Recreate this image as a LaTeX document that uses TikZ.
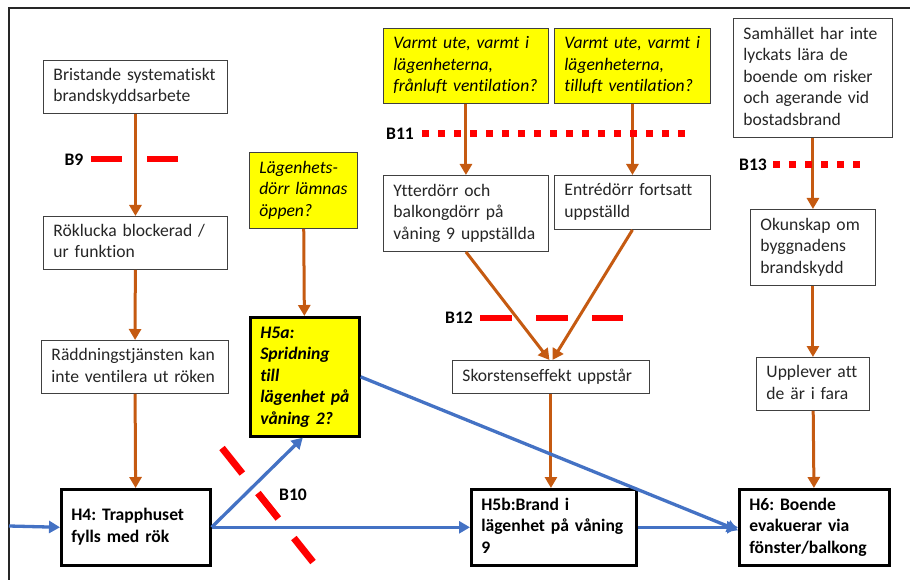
\documentclass[tikz,border=0pt]{standalone}
\usepackage{fontspec}
\setmainfont{Carlito}[Ligatures={NoCommon}]
\usetikzlibrary{arrows.meta}
\definecolor{arrOrange}{HTML}{C55A11}
\definecolor{arrBlue}{HTML}{4472C4}
\definecolor{barRed}{HTML}{FF0000}
\definecolor{noteYellow}{HTML}{FFFF00}
\newcommand{\basefont}{\fontsize{17.6}{21.5}\selectfont\frenchspacing}
\newcommand{\boxlines}[1]{\begin{tabular}{@{}l@{}}#1\end{tabular}}
\tikzset{
  box/.style={draw=black!75, line width=0.9pt, fill=white, anchor=north west,
    inner xsep=10pt, inner ysep=0pt, align=left, text=black!85, font=\basefont},
  yel/.style={box, fill=noteYellow, text=black, font=\basefont\itshape},
  hbox/.style={box, draw=black, line width=2.6pt, text=black, font=\basefont\bfseries},
  hyel/.style={hbox, fill=noteYellow, font=\basefont\bfseries\itshape},
  lab/.style={inner sep=0pt, font=\basefont\bfseries, text=black},
  orangearr/.style={draw=arrOrange, line width=3pt, -{Triangle[width=12pt,length=11pt]}},
  bluearr/.style={draw=arrBlue, line width=3.3pt, -{Triangle[width=12pt,length=11pt]}},
  barrier/.style={draw=barRed, line width=6.5pt},
}
\begin{document}
\begin{tikzpicture}[x=1pt,y=-1pt]
\useasboundingbox (0,0) rectangle (910,580);
% frame
\coordinate (fbl) at (9,580);
\coordinate (ftl) at (9,8);
\coordinate (ftr) at (910,8);
\draw[line width=2pt, black!85] (fbl) -- (ftl) -- (ftr);

% left column
\node[box, text width=164pt, minimum height=53pt] (A) at (43,60) {\boxlines{Bristande systematiskt\\brandskyddsarbete}};
\node[box, text width=164pt, minimum height=53pt] (B) at (43,216) {\boxlines{Röklucka blockerad /\\ur funktion}};
\node[box, text width=167pt, minimum height=53pt] (C) at (41,340) {\boxlines{Räddningstjänsten kan\\inte ventilera ut röken}};
\node[hbox, text width=129pt, minimum height=76pt] (H4) at (60,488) {\boxlines{H4: Trapphuset\\fylls med rök\\ }};

% second column
\node[yel, text width=88pt, minimum height=76pt] (L) at (249,152) {\boxlines{Lägenhets-\\dörr lämnas\\öppen?}};
\node[hyel, text width=89pt, minimum height=119pt] (H5a) at (249,316) {\boxlines{H5a:\\Spridning\\till\\lägenhet på\\våning 2?}};

% middle
\node[yel, text width=145pt, minimum height=75pt] (V1) at (383,28) {\boxlines{Varmt ute, varmt i\\lägenheterna,\\frånluft ventilation?}};
\node[yel, text width=136pt, minimum height=75pt] (V2) at (554,28) {\boxlines{Varmt ute, varmt i\\lägenheterna,\\tilluft ventilation?}};
\node[box, text width=145pt, minimum height=76pt] (Y) at (383,175) {\boxlines{Ytterdörr och\\balkongdörr på\\våning 9 uppställda}};
\node[box, text width=136pt, minimum height=54pt] (E) at (554,175) {\boxlines{Entrédörr fortsatt\\uppställd}};
\node[box, text width=177pt, minimum height=33pt] (S) at (452,360) {\boxlines{Skorstenseffekt uppstår}};
\node[hbox, text width=145pt, minimum height=76pt] (H5b) at (470,488) {\boxlines{H5b:Brand i\\lägenhet på våning\\9}};

% right column
\node[box, text width=139pt, minimum height=119pt] (Sam) at (733,18) {\boxlines{Samhället har inte\\lyckats lära de\\boende om risker\\och agerande vid\\bostadsbrand}};
\node[box, text width=105pt, minimum height=76pt] (O) at (750,209) {\boxlines{Okunskap om\\byggnadens\\brandskydd}};
\node[box, text width=93pt, minimum height=53pt] (U) at (756,357) {\boxlines{Upplever att\\de är i fara}};
\node[hbox, text width=130pt, minimum height=76pt] (H6) at (738,488) {\boxlines{H6: Boende\\evakuerar via\\fönster/balkong}};

% barrier labels
\node[lab] (b9) at (74,160) {B9};
\node[lab] (b10) at (293,495) {B10};
\node[lab] (b11) at (400,134) {B11};
\node[lab] (b12) at (459,318) {B12};
\node[lab] (b13) at (753,165) {B13};

% orange arrows
\draw[orangearr] (A) -- (B);
\draw[orangearr] (B) -- (C);
\draw[orangearr] (C) -- (H4);
\draw[orangearr] (L) -- (H5a);
\draw[orangearr] (V1) -- (Y);
\draw[orangearr] (V2.south) -- (E.north);
\draw[orangearr] (Y.south) -- ([xshift=-1.5pt]S.north);
\draw[orangearr] (E.south) -- ([xshift=1.5pt]S.north);
\draw[orangearr] (S.south) -- (S.south |- H5b.north);
\draw[orangearr] (Sam) -- (O);
\draw[orangearr] (O) -- (U);
\draw[orangearr] (U) -- (H6);

% barriers
\draw[barrier, dash pattern=on 31pt off 25pt] (91,159) -- (178,159);
\draw[barrier, line width=7pt, dash pattern=on 7pt off 9pt] (422,134) -- (685,134);
\draw[barrier, dash pattern=on 31.5pt off 24.5pt] (480,318) -- (623,318);
\draw[barrier, line width=7pt, dash pattern=on 7pt off 9pt] (773,165) -- (860,165);
\draw[barrier, line width=7pt, dash pattern=on 32.6pt off 25pt] (222,448) -- (313,562);

% blue arrows
\coordinate (in) at (9,526);
\draw[bluearr] (in) -- (H4.west);
\draw[bluearr] (H4.east) -- ([xshift=-2pt]H5a.south);
\draw[bluearr] (H4.east) -- (H5b.west);
\draw[bluearr] (H5a.east) -- ([yshift=-3pt]H6.west);
\draw[bluearr] (H5b.east) -- (H6.west);
\end{tikzpicture}
\end{document}
